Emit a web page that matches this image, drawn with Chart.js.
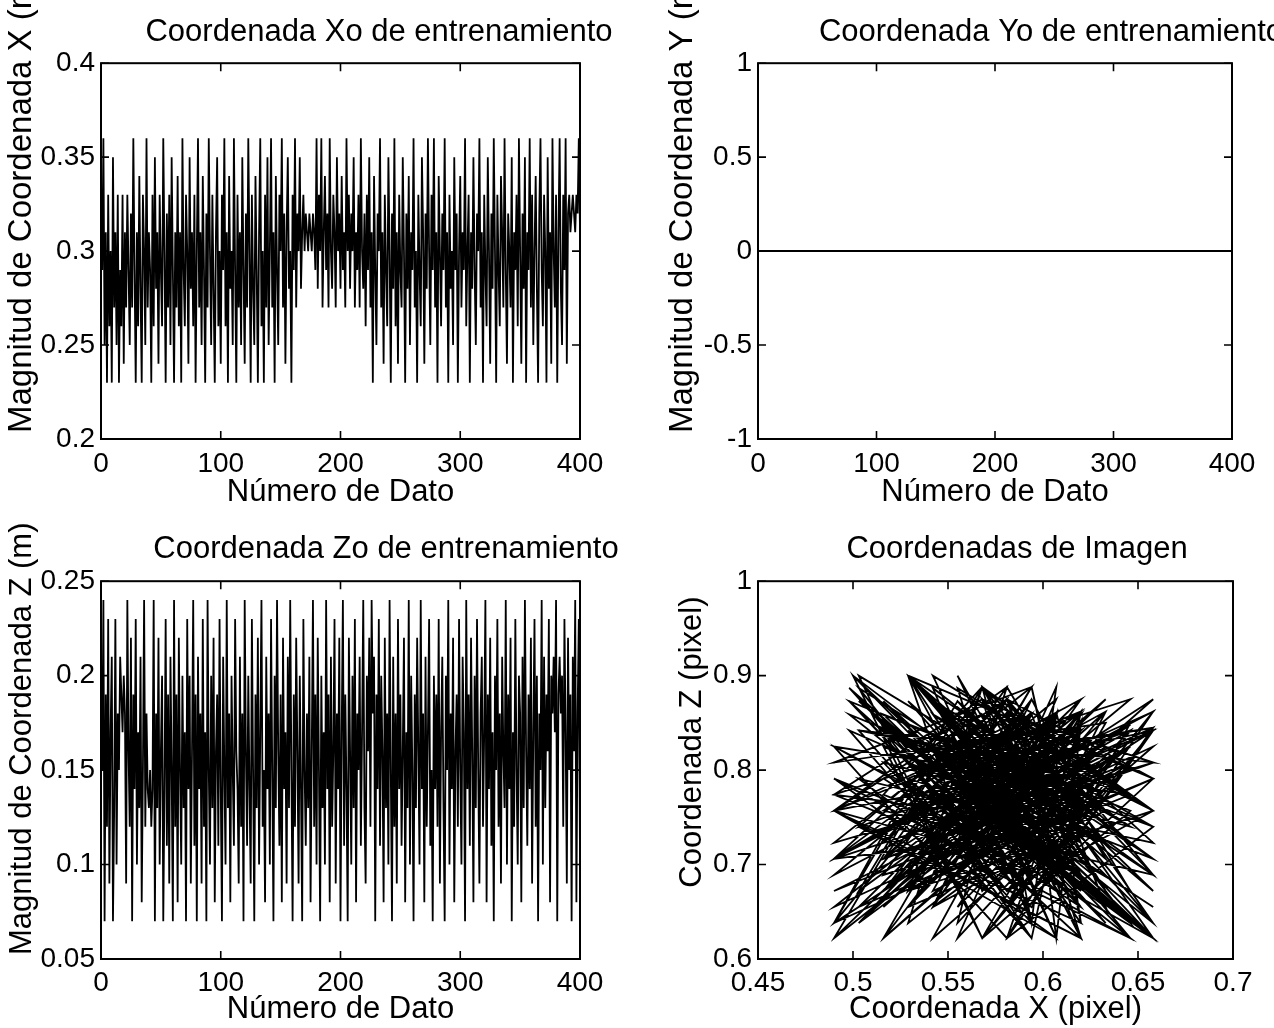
<!DOCTYPE html>
<html>
<head>
<meta charset="utf-8">
<script src="https://cdn.jsdelivr.net/npm/chart.js@4.4.1/dist/chart.umd.min.js"></script>
<style>
html,body{margin:0;padding:0;background:#fff;overflow:hidden;width:1274px;height:1028px;position:relative}
canvas{position:absolute}
</style>
</head>
<body>
<canvas id="cXo" width="758" height="514" style="left:0px;top:0px"></canvas>
<canvas id="cYo" width="822" height="514" style="left:640px;top:0px"></canvas>
<canvas id="cZo" width="772" height="514" style="left:0px;top:514px"></canvas>
<canvas id="cImg" width="754" height="514" style="left:640px;top:514px"></canvas>
<script>
// ---------- DATA ----------
const datoTicks = [0, 100, 200, 300, 400];
const xoTicks = [0.2, 0.25, 0.3, 0.35, 0.4];
const yoTicks = [-1, -0.5, 0, 0.5, 1];
const zoTicks = [0.05, 0.1, 0.15, 0.2, 0.25];
const imgXTicks = [0.45, 0.5, 0.55, 0.6, 0.65, 0.7];
const imgZTicks = [0.6, 0.7, 0.8, 0.9, 1];

const titles = ['Coordenada Xo de entrenamiento', 'Coordenada Yo de entrenamiento', 'Coordenada Zo de entrenamiento', 'Coordenadas de Imagen'];
const xLabels = ['Número de Dato', 'Número de Dato', 'Número de Dato', 'Coordenada X (pixel)'];
const yLabels = ['Magnitud de Coordenada X (m)', 'Magnitud de Coordenada Y (m)', 'Magnitud de Coordenada Z (m)', 'Coordenada Z (pixel)'];

const xoValues = [
0.29,0.36,0.25,0.31,0.23,0.33,0.26,0.30,0.23,0.35,0.27,0.31,0.25,0.33,0.23,0.29,0.26,0.33,0.24,0.31,
0.27,0.33,0.29,0.25,0.32,0.27,0.36,0.29,0.23,0.31,0.26,0.34,0.28,0.23,0.33,0.30,0.25,0.36,0.27,0.31,
0.29,0.23,0.33,0.26,0.35,0.28,0.31,0.24,0.33,0.29,0.26,0.36,0.30,0.23,0.32,0.27,0.33,0.25,0.35,0.29,
0.23,0.31,0.27,0.34,0.26,0.31,0.23,0.36,0.29,0.26,0.33,0.30,0.24,0.35,0.28,0.31,0.26,0.33,0.23,0.30,
0.36,0.27,0.31,0.25,0.34,0.29,0.23,0.32,0.27,0.36,0.30,0.25,0.33,0.28,0.23,0.31,0.35,0.26,0.30,0.24,
0.33,0.29,0.36,0.26,0.31,0.23,0.34,0.28,0.30,0.25,0.36,0.29,0.23,0.33,0.27,0.31,0.25,0.35,0.29,0.24,
0.32,0.27,0.36,0.30,0.23,0.33,0.28,0.25,0.34,0.29,0.23,0.31,0.36,0.26,0.30,0.23,0.33,0.27,0.35,0.25,
0.30,0.36,0.27,0.31,0.23,0.34,0.29,0.25,0.33,0.30,0.36,0.27,0.32,0.24,0.31,0.35,0.28,0.30,0.23,0.33,
0.29,0.36,0.27,0.32,0.30,0.35,0.28,0.31,0.33,0.30,0.32,0.31,0.30,0.32,0.31,0.30,0.32,0.31,0.29,0.36,
0.28,0.33,0.30,0.36,0.27,0.31,0.34,0.29,0.32,0.27,0.36,0.30,0.28,0.33,0.31,0.27,0.35,0.30,0.32,0.28,
0.34,0.29,0.31,0.27,0.36,0.30,0.33,0.28,0.32,0.30,0.35,0.27,0.31,0.29,0.33,0.27,0.36,0.30,0.28,0.32,
0.26,0.33,0.29,0.35,0.27,0.31,0.23,0.34,0.29,0.25,0.32,0.30,0.36,0.27,0.31,0.24,0.33,0.29,0.26,0.35,
0.30,0.23,0.32,0.28,0.36,0.26,0.31,0.24,0.33,0.29,0.27,0.35,0.30,0.23,0.32,0.28,0.34,0.25,0.31,0.29,
0.36,0.27,0.30,0.23,0.33,0.29,0.26,0.35,0.31,0.24,0.32,0.28,0.36,0.30,0.25,0.33,0.29,0.36,0.27,0.31,
0.23,0.34,0.30,0.26,0.32,0.29,0.36,0.27,0.31,0.23,0.33,0.28,0.30,0.25,0.35,0.29,0.32,0.23,0.30,0.34,
0.27,0.31,0.29,0.36,0.26,0.30,0.33,0.23,0.31,0.28,0.35,0.29,0.25,0.32,0.30,0.36,0.27,0.31,0.23,0.33,
0.29,0.26,0.35,0.30,0.24,0.32,0.28,0.36,0.30,0.23,0.33,0.29,0.26,0.34,0.31,0.27,0.36,0.29,0.24,0.32,
0.30,0.27,0.35,0.23,0.31,0.29,0.33,0.26,0.36,0.30,0.24,0.32,0.28,0.35,0.23,0.31,0.29,0.36,0.27,0.33,
0.25,0.30,0.34,0.28,0.23,0.32,0.36,0.29,0.26,0.33,0.30,0.23,0.35,0.28,0.31,0.24,0.36,0.30,0.27,0.33,
0.23,0.31,0.36,0.28,0.25,0.33,0.29,0.36,0.24,0.32,0.33,0.31,0.32,0.33,0.32,0.31,0.33,0.32,0.36,0.31
];

const yoValues = [
0,0,0,0,0,0,0,0,0,0,0,0,0,0,0,0,0,0,0,0,
0,0,0,0,0,0,0,0,0,0,0,0,0,0,0,0,0,0,0,0,
0,0,0,0,0,0,0,0,0,0,0,0,0,0,0,0,0,0,0,0,
0,0,0,0,0,0,0,0,0,0,0,0,0,0,0,0,0,0,0,0,
0,0,0,0,0,0,0,0,0,0,0,0,0,0,0,0,0,0,0,0,
0,0,0,0,0,0,0,0,0,0,0,0,0,0,0,0,0,0,0,0,
0,0,0,0,0,0,0,0,0,0,0,0,0,0,0,0,0,0,0,0,
0,0,0,0,0,0,0,0,0,0,0,0,0,0,0,0,0,0,0,0,
0,0,0,0,0,0,0,0,0,0,0,0,0,0,0,0,0,0,0,0,
0,0,0,0,0,0,0,0,0,0,0,0,0,0,0,0,0,0,0,0,
0,0,0,0,0,0,0,0,0,0,0,0,0,0,0,0,0,0,0,0,
0,0,0,0,0,0,0,0,0,0,0,0,0,0,0,0,0,0,0,0,
0,0,0,0,0,0,0,0,0,0,0,0,0,0,0,0,0,0,0,0,
0,0,0,0,0,0,0,0,0,0,0,0,0,0,0,0,0,0,0,0,
0,0,0,0,0,0,0,0,0,0,0,0,0,0,0,0,0,0,0,0,
0,0,0,0,0,0,0,0,0,0,0,0,0,0,0,0,0,0,0,0,
0,0,0,0,0,0,0,0,0,0,0,0,0,0,0,0,0,0,0,0,
0,0,0,0,0,0,0,0,0,0,0,0,0,0,0,0,0,0,0,0,
0,0,0,0,0,0,0,0,0,0,0,0,0,0,0,0,0,0,0,0,
0,0,0,0,0,0,0,0,0,0,0,0,0,0,0,0,0,0,0,0
];

const zoValues = [
0.15,0.24,0.07,0.19,0.12,0.23,0.09,0.17,0.21,0.07,0.13,0.23,0.10,0.18,0.15,0.21,0.19,0.17,0.20,0.18,
0.09,0.24,0.16,0.12,0.22,0.07,0.19,0.14,0.23,0.10,0.17,0.13,0.21,0.08,0.15,0.24,0.12,0.18,0.14,0.13,
0.15,0.12,0.14,0.24,0.07,0.18,0.13,0.22,0.10,0.16,0.20,0.07,0.14,0.23,0.11,0.19,0.09,0.21,0.15,0.07,
0.24,0.12,0.19,0.08,0.22,0.15,0.10,0.20,0.13,0.17,0.07,0.23,0.14,0.20,0.09,0.16,0.24,0.11,0.19,0.07,
0.21,0.14,0.18,0.09,0.23,0.12,0.17,0.07,0.24,0.15,0.10,0.20,0.13,0.22,0.08,0.16,0.19,0.11,0.23,0.14,
0.07,0.21,0.15,0.10,0.24,0.13,0.18,0.08,0.20,0.15,0.11,0.23,0.16,0.14,0.09,0.21,0.12,0.18,0.07,0.24,
0.16,0.11,0.20,0.14,0.09,0.23,0.15,0.07,0.19,0.13,0.22,0.10,0.17,0.24,0.12,0.15,0.08,0.21,0.14,0.18,
0.10,0.23,0.15,0.07,0.20,0.13,0.24,0.16,0.11,0.19,0.08,0.22,0.14,0.17,0.09,0.21,0.13,0.24,0.15,0.07,
0.19,0.12,0.22,0.16,0.09,0.20,0.14,0.07,0.23,0.15,0.11,0.18,0.13,0.21,0.08,0.16,0.24,0.12,0.19,0.10,
0.22,0.15,0.07,0.20,0.13,0.17,0.10,0.24,0.14,0.19,0.08,0.21,0.12,0.16,0.23,0.09,0.18,0.14,0.22,0.07,
0.17,0.24,0.11,0.19,0.14,0.07,0.22,0.16,0.10,0.20,0.13,0.23,0.08,0.18,0.15,0.21,0.11,0.17,0.24,0.13,
0.09,0.20,0.16,0.22,0.12,0.24,0.18,0.21,0.07,0.19,0.14,0.23,0.11,0.20,0.16,0.08,0.22,0.13,0.18,0.10,
0.24,0.15,0.07,0.21,0.12,0.18,0.09,0.23,0.14,0.19,0.11,0.16,0.22,0.08,0.17,0.13,0.24,0.10,0.20,0.15,
0.07,0.19,0.13,0.22,0.16,0.10,0.24,0.14,0.18,0.08,0.21,0.12,0.17,0.23,0.11,0.15,0.07,0.20,0.14,0.19,
0.12,0.23,0.09,0.17,0.21,0.13,0.07,0.20,0.15,0.24,0.10,0.18,0.14,0.22,0.08,0.16,0.19,0.12,0.23,0.15,
0.10,0.21,0.17,0.07,0.24,0.14,0.19,0.11,0.22,0.16,0.08,0.20,0.13,0.23,0.15,0.09,0.18,0.21,0.12,0.17,
0.24,0.08,0.19,0.14,0.22,0.11,0.17,0.07,0.20,0.15,0.23,0.12,0.18,0.09,0.21,0.16,0.13,0.24,0.10,0.19,
0.14,0.22,0.07,0.17,0.12,0.23,0.15,0.10,0.20,0.18,0.08,0.21,0.13,0.24,0.16,0.11,0.19,0.14,0.22,0.09,
0.17,0.23,0.12,0.20,0.07,0.18,0.15,0.24,0.10,0.21,0.13,0.19,0.16,0.23,0.08,0.20,0.18,0.21,0.17,0.24,
0.07,0.19,0.21,0.18,0.20,0.12,0.23,0.17,0.09,0.22,0.15,0.19,0.07,0.21,0.16,0.24,0.08,0.18,0.23,0.10
];

const imgXValues = [
0.568,0.658,0.516,0.594,0.490,0.620,0.529,0.581,0.498,0.646,0.542,0.594,0.516,0.620,0.490,0.568,0.529,0.620,0.503,0.594,
0.542,0.620,0.568,0.516,0.607,0.542,0.658,0.568,0.498,0.594,0.529,0.633,0.555,0.490,0.620,0.581,0.516,0.658,0.542,0.594,
0.568,0.490,0.620,0.529,0.646,0.555,0.594,0.503,0.620,0.568,0.529,0.658,0.581,0.498,0.607,0.542,0.620,0.516,0.646,0.568,
0.500,0.594,0.542,0.633,0.529,0.594,0.490,0.658,0.568,0.529,0.620,0.581,0.503,0.646,0.555,0.594,0.529,0.620,0.490,0.581,
0.658,0.542,0.594,0.516,0.633,0.568,0.490,0.607,0.542,0.658,0.581,0.516,0.620,0.555,0.490,0.594,0.646,0.529,0.581,0.503,
0.620,0.568,0.658,0.529,0.594,0.490,0.633,0.555,0.581,0.516,0.658,0.568,0.490,0.620,0.542,0.594,0.516,0.646,0.568,0.503,
0.607,0.542,0.658,0.581,0.490,0.620,0.555,0.516,0.633,0.568,0.498,0.594,0.658,0.529,0.581,0.490,0.620,0.542,0.646,0.516,
0.581,0.658,0.542,0.594,0.498,0.633,0.568,0.516,0.620,0.581,0.658,0.542,0.607,0.503,0.594,0.646,0.555,0.581,0.490,0.620,
0.568,0.658,0.542,0.607,0.581,0.646,0.555,0.594,0.620,0.581,0.607,0.594,0.581,0.607,0.594,0.581,0.607,0.594,0.568,0.658,
0.555,0.620,0.581,0.658,0.542,0.594,0.633,0.568,0.607,0.542,0.658,0.581,0.555,0.620,0.594,0.542,0.646,0.581,0.607,0.555,
0.633,0.568,0.594,0.542,0.658,0.581,0.620,0.555,0.607,0.581,0.646,0.542,0.594,0.568,0.620,0.542,0.658,0.581,0.555,0.607,
0.529,0.620,0.568,0.646,0.542,0.594,0.490,0.633,0.568,0.516,0.607,0.581,0.658,0.542,0.594,0.503,0.620,0.568,0.529,0.646,
0.581,0.490,0.607,0.555,0.658,0.529,0.594,0.503,0.620,0.568,0.542,0.646,0.581,0.490,0.607,0.555,0.633,0.516,0.594,0.568,
0.658,0.542,0.581,0.498,0.620,0.568,0.529,0.646,0.594,0.503,0.607,0.555,0.658,0.581,0.516,0.620,0.568,0.658,0.542,0.594,
0.490,0.633,0.581,0.529,0.607,0.568,0.658,0.542,0.594,0.500,0.620,0.555,0.581,0.516,0.646,0.568,0.607,0.490,0.581,0.633,
0.542,0.594,0.568,0.658,0.529,0.581,0.620,0.490,0.594,0.555,0.646,0.568,0.516,0.607,0.581,0.658,0.542,0.594,0.490,0.620,
0.568,0.529,0.646,0.581,0.503,0.607,0.555,0.658,0.581,0.490,0.620,0.568,0.529,0.633,0.594,0.542,0.658,0.568,0.503,0.607,
0.581,0.542,0.646,0.490,0.594,0.568,0.620,0.529,0.658,0.581,0.503,0.607,0.555,0.646,0.490,0.594,0.568,0.658,0.542,0.620,
0.516,0.581,0.633,0.555,0.490,0.607,0.658,0.568,0.529,0.620,0.581,0.490,0.646,0.555,0.594,0.503,0.658,0.581,0.542,0.620,
0.490,0.594,0.658,0.555,0.516,0.620,0.568,0.658,0.503,0.607,0.620,0.594,0.607,0.620,0.607,0.594,0.620,0.607,0.658,0.594
];

const imgZValues = [
0.757,0.875,0.622,0.825,0.706,0.862,0.655,0.791,0.859,0.622,0.723,0.875,0.672,0.808,0.757,0.859,0.825,0.791,0.842,0.808,
0.655,0.875,0.774,0.706,0.861,0.622,0.825,0.740,0.887,0.672,0.791,0.723,0.859,0.638,0.757,0.888,0.706,0.808,0.740,0.723,
0.757,0.706,0.740,0.900,0.622,0.808,0.723,0.873,0.672,0.774,0.842,0.622,0.740,0.887,0.689,0.825,0.655,0.859,0.757,0.622,
0.900,0.706,0.825,0.638,0.873,0.757,0.672,0.842,0.723,0.791,0.622,0.875,0.740,0.842,0.655,0.774,0.900,0.689,0.825,0.622,
0.845,0.740,0.808,0.655,0.862,0.706,0.791,0.622,0.900,0.757,0.672,0.842,0.723,0.873,0.638,0.774,0.825,0.689,0.875,0.740,
0.622,0.859,0.757,0.672,0.888,0.723,0.808,0.638,0.842,0.757,0.689,0.875,0.774,0.740,0.655,0.859,0.706,0.808,0.622,0.900,
0.774,0.689,0.842,0.740,0.655,0.862,0.757,0.622,0.825,0.723,0.873,0.672,0.791,0.900,0.706,0.757,0.638,0.859,0.740,0.808,
0.672,0.862,0.757,0.622,0.842,0.723,0.888,0.774,0.689,0.825,0.638,0.873,0.740,0.791,0.655,0.850,0.723,0.888,0.757,0.622,
0.825,0.706,0.873,0.774,0.655,0.842,0.740,0.622,0.862,0.757,0.689,0.808,0.723,0.859,0.638,0.774,0.888,0.706,0.825,0.672,
0.873,0.757,0.622,0.842,0.723,0.791,0.672,0.888,0.740,0.825,0.638,0.859,0.706,0.774,0.875,0.655,0.808,0.740,0.861,0.622,
0.791,0.888,0.689,0.825,0.740,0.622,0.848,0.774,0.672,0.842,0.723,0.887,0.638,0.808,0.757,0.859,0.689,0.791,0.900,0.723,
0.655,0.842,0.774,0.848,0.706,0.888,0.808,0.850,0.622,0.825,0.740,0.875,0.689,0.842,0.774,0.638,0.848,0.723,0.808,0.672,
0.888,0.757,0.622,0.859,0.706,0.808,0.655,0.887,0.740,0.825,0.689,0.774,0.861,0.638,0.791,0.723,0.875,0.672,0.842,0.757,
0.622,0.825,0.723,0.873,0.774,0.672,0.900,0.740,0.808,0.638,0.859,0.706,0.791,0.875,0.689,0.757,0.622,0.842,0.740,0.825,
0.706,0.862,0.655,0.791,0.859,0.723,0.622,0.842,0.757,0.900,0.672,0.808,0.740,0.873,0.638,0.774,0.825,0.706,0.875,0.757,
0.672,0.859,0.791,0.622,0.900,0.740,0.825,0.689,0.861,0.774,0.638,0.842,0.723,0.875,0.757,0.655,0.808,0.859,0.706,0.791,
0.888,0.638,0.825,0.740,0.873,0.689,0.791,0.622,0.842,0.757,0.862,0.706,0.808,0.655,0.859,0.774,0.723,0.888,0.672,0.825,
0.740,0.873,0.622,0.791,0.706,0.875,0.757,0.672,0.842,0.808,0.638,0.859,0.723,0.875,0.774,0.689,0.825,0.740,0.873,0.655,
0.791,0.875,0.706,0.842,0.622,0.808,0.757,0.888,0.672,0.859,0.723,0.825,0.774,0.887,0.638,0.842,0.808,0.859,0.791,0.875,
0.622,0.825,0.845,0.808,0.842,0.706,0.875,0.791,0.655,0.861,0.757,0.825,0.622,0.850,0.774,0.888,0.638,0.808,0.862,0.672
];

// ---------- RENDERING ----------
const FONT = "'Liberation Sans', Arial, Helvetica, sans-serif";
Chart.defaults.font.family = FONT;
Chart.defaults.color = '#000';

const fmt = v => String(Math.round(v * 1000) / 1000);

const matlabAxes = {
  id: 'matlabAxes',
  afterDatasetsDraw(chart) {
    const {ctx, chartArea: a, scales: {x, y}} = chart;
    const L = 8;
    ctx.save();
    ctx.strokeStyle = '#000';
    ctx.lineWidth = 1.6;
    ctx.beginPath();
    x.ticks.forEach(t => {
      const px = x.getPixelForValue(t.value);
      ctx.moveTo(px, a.bottom); ctx.lineTo(px, a.bottom - L);
      ctx.moveTo(px, a.top); ctx.lineTo(px, a.top + L);
    });
    y.ticks.forEach(t => {
      const py = y.getPixelForValue(t.value);
      ctx.moveTo(a.left, py); ctx.lineTo(a.left + L, py);
      ctx.moveTo(a.right, py); ctx.lineTo(a.right - L, py);
    });
    ctx.stroke();
    ctx.lineWidth = 2;
    ctx.strokeRect(a.left, a.top, a.right - a.left, a.bottom - a.top);
    ctx.restore();
  }
};

const yLabelPlugin = {
  id: 'yLabel',
  afterDraw(chart, args, opts) {
    const {ctx, chartArea: a} = chart;
    ctx.save();
    ctx.fillStyle = '#000';
    ctx.font = opts.size + 'px ' + FONT;
    ctx.textBaseline = 'middle';
    ctx.textAlign = opts.align === 'start' ? 'left' : 'center';
    const yPos = opts.align === 'start' ? a.bottom + opts.shift : (a.top + a.bottom) / 2 + opts.shift;
    ctx.translate(opts.x, yPos);
    ctx.rotate(-Math.PI / 2);
    ctx.fillText(opts.text, 0, 0);
    ctx.restore();
  }
};

function panel(id, o) {
  const xs = o.xTicks, ys = o.yTicks;
  return new Chart(document.getElementById(id), {
    type: 'line',
    data: {
      datasets: [{
        data: o.points,
        borderColor: '#000',
        borderWidth: o.lw,
        pointRadius: 0,
        fill: false,
        tension: 0
      }]
    },
    options: {
      responsive: false,
      animation: false,
      devicePixelRatio: 1,
      events: [],
      layout: {padding: 0},
      plugins: {
        legend: {display: false},
        tooltip: {enabled: false},
        title: {
          display: true, text: o.title, color: '#000',
          font: {size: 31, weight: 'normal', family: FONT},
          padding: {top: o.titleTop, bottom: o.titleBottom}
        },
        yLabel: {text: o.yLabel, x: o.yLabelX, align: o.yLabelAlign, shift: o.yLabelShift, size: o.yLabelSize}
      },
      scales: {
        x: {
          type: 'linear', min: xs[0], max: xs[xs.length - 1],
          afterBuildTicks: s => { s.ticks = xs.map(v => ({value: v})); },
          afterFit: s => { s.height = o.bottomH; },
          grid: {display: false, drawTicks: false},
          border: {display: false},
          ticks: {color: '#000', font: {size: 28}, padding: o.xTickPad, maxRotation: 0, minRotation: 0, autoSkip: false, callback: fmt},
          title: {display: true, text: o.xLabel, color: '#000', font: {size: 31}, padding: {top: 0, bottom: o.xTitlePad}}
        },
        y: {
          type: 'linear', position: 'left', min: ys[0], max: ys[ys.length - 1],
          afterBuildTicks: s => { s.ticks = ys.map(v => ({value: v})); },
          afterFit: s => { s.width = o.leftW; },
          grid: {display: false, drawTicks: false},
          border: {display: false},
          ticks: {color: '#000', font: {size: 28}, padding: 6, autoSkip: false, callback: fmt}
        },
        yR: {
          type: 'linear', position: 'right', display: true,
          afterFit: s => { s.width = o.rightW; },
          grid: {display: false, drawTicks: false},
          border: {display: false},
          ticks: {display: false}
        }
      }
    },
    plugins: [matlabAxes, yLabelPlugin]
  });
}

const seq = arr => arr.map((v, i) => ({x: i + 1, y: v}));
const pairs = (xa, ya) => xa.map((v, i) => ({x: v, y: ya[i]}));

panel('cXo', {
  points: seq(xoValues), lw: 1.8, xTicks: datoTicks, yTicks: xoTicks,
  title: titles[0], xLabel: xLabels[0], yLabel: yLabels[0],
  titleTop: 14, titleBottom: 12, bottomH: 75, leftW: 101, rightW: 178,
  xTickPad: 8, xTitlePad: 3, yLabelX: 22, yLabelAlign: 'start', yLabelShift: -6, yLabelSize: 33
});
panel('cYo', {
  points: seq(yoValues), lw: 2, xTicks: datoTicks, yTicks: yoTicks,
  title: titles[1], xLabel: xLabels[1], yLabel: yLabels[1],
  titleTop: 14, titleBottom: 12, bottomH: 75, leftW: 118, rightW: 230,
  xTickPad: 8, xTitlePad: 3, yLabelX: 43, yLabelAlign: 'start', yLabelShift: -6, yLabelSize: 33
});
panel('cZo', {
  points: seq(zoValues), lw: 1.8, xTicks: datoTicks, yTicks: zoTicks,
  title: titles[2], xLabel: xLabels[2], yLabel: yLabels[2],
  titleTop: 17, titleBottom: 13, bottomH: 69, leftW: 101, rightW: 192,
  xTickPad: 7, xTitlePad: 0, yLabelX: 22, yLabelAlign: 'start', yLabelShift: -4, yLabelSize: 31
});
panel('cImg', {
  points: pairs(imgXValues, imgZValues), lw: 1.8, xTicks: imgXTicks, yTicks: imgZTicks,
  title: titles[3], xLabel: xLabels[3], yLabel: yLabels[3],
  titleTop: 17, titleBottom: 13, bottomH: 69, leftW: 118, rightW: 161,
  xTickPad: 7, xTitlePad: 0, yLabelX: 52, yLabelAlign: 'center', yLabelShift: -28, yLabelSize: 31
});
</script>
</body>
</html>
